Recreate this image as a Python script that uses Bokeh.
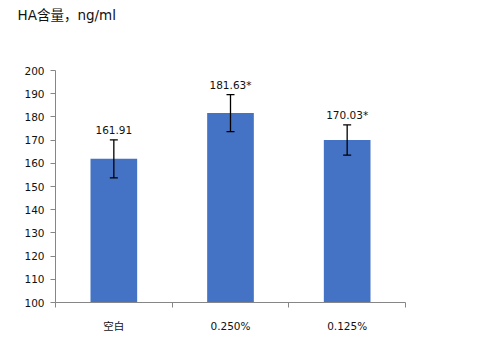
from bokeh.plotting import figure
from bokeh.models import ColumnDataSource, Whisker, TeeHead, FixedTicker, Range1d, Title
from bokeh.core.properties import value
from bokeh.embed import file_html
from bokeh.resources import INLINE

categories = ["空白", "0.250%", "0.125%"]
means = [161.91, 181.63, 170.03]
errors = [8.2, 7.95, 6.5]
value_labels = ["161.91", "181.63*", "170.03*"]
y_ticks = [100, 110, 120, 130, 140, 150, 160, 170, 180, 190, 200]
title_text = "HA含量，ng/ml"

xs = [i + 0.5 for i in range(len(categories))]
src = ColumnDataSource(dict(
    x=xs, top=means,
    lower=[m - e for m, e in zip(means, errors)],
    upper=[m + e for m, e in zip(means, errors)],
    lab=value_labels,
))

p = figure(width=480, height=353, output_backend="svg", toolbar_location=None,
           x_range=Range1d(0, len(categories)), y_range=Range1d(100, 200),
           min_border_left=55, min_border_right=75, min_border_top=70, min_border_bottom=51,
           title=title_text)
p.outline_line_color = None
p.xgrid.visible = False
p.ygrid.visible = False
p.background_fill_color = "white"
p.border_fill_color = "white"

# spacer between the chart title and the plot frame
p.add_layout(Title(text=" ", standoff=24, text_font_size="13.5px"), "above")

p.title.align = "left"
p.title.vertical_align = "top"
p.title.offset = -38
p.title.standoff = 10
p.title.text_font = "DejaVu Sans, 'Noto Sans CJK SC'"
p.title.text_font_size = "13.5px"
p.title.text_font_style = "normal"
p.title.text_color = "#111111"

p.vbar(x="x", top="top", bottom=100, width=0.4, source=src, fill_color="#4472C4", line_color=None)

w = Whisker(base="x", lower="lower", upper="upper", source=src, line_color="black", line_width=1.3,
            upper_head=TeeHead(size=8, line_color="black", line_width=1.3),
            lower_head=TeeHead(size=8, line_color="black", line_width=1.3),
            level="overlay")
p.add_layout(w)

p.text(x="x", y="upper", text="lab", source=src, text_align="center", text_baseline="alphabetic",
       y_offset=-10, text_font=value("DejaVu Sans"), text_font_size="10.5px", text_color="#111111")

axis_color = "#868686"
xa = p.xaxis[0]
xa.ticker = FixedTicker(ticks=xs, minor_ticks=list(range(len(categories) + 1)))
xa.major_label_overrides = {x: c for x, c in zip(xs, categories)}
xa.major_tick_out = 0
xa.major_tick_in = 0
xa.minor_tick_out = 5
xa.minor_tick_in = 0
xa.minor_tick_line_color = axis_color
xa.axis_line_color = axis_color
xa.major_label_standoff = 12
xa.major_label_text_font = "DejaVu Sans, 'Noto Sans CJK SC'"
xa.major_label_text_font_size = "10.5px"
xa.major_label_text_color = "#111111"

ya = p.yaxis[0]
ya.ticker = FixedTicker(ticks=y_ticks, minor_ticks=[])
ya.major_tick_out = 5
ya.major_tick_in = 0
ya.major_tick_line_color = axis_color
ya.axis_line_color = axis_color
ya.major_label_standoff = 6
ya.major_label_text_font = "DejaVu Sans"
ya.major_label_text_font_size = "10.5px"
ya.major_label_text_color = "#111111"

open("out.html", "w").write(file_html(p, INLINE))
